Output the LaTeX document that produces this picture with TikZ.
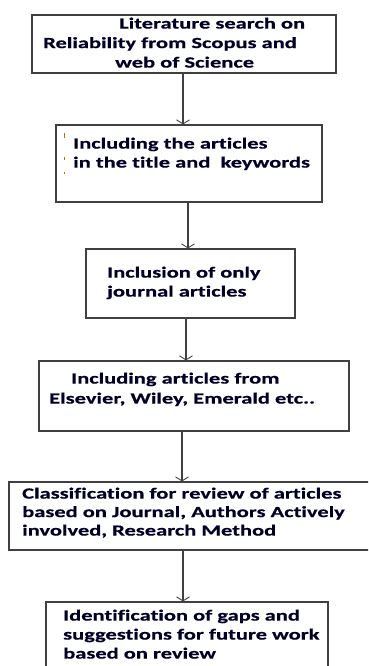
\documentclass[tikz,border=0pt]{standalone}
\usepackage{fontspec}
\setmainfont{Carlito}[FakeStretch=1.45, Ligatures={NoCommon}, BoldFeatures={FakeBold=0.6}]
\usetikzlibrary{arrows.meta}
\begin{document}
\begin{tikzpicture}[x=1pt,y=-1pt,
  stepbox/.style={draw=black!75, line width=1.2pt, rectangle, inner sep=0pt},
  steptext/.style={anchor=north west, inner sep=0pt, align=left, text=black!85!blue,
    font=\fontsize{15.5}{19}\selectfont\bfseries},
  flow/.style={draw=black!75, line width=1.1pt, -{Straight Barb[length=4pt,width=13pt,line width=0.9pt]}},
  tick/.style={draw=orange!80!black, line width=0.8pt}]
\useasboundingbox (0,0) rectangle (368,666);
\clip (0,0) rectangle (368,666);

% boxes
\node[stepbox, minimum width=304pt, minimum height=58pt] (b1) at (184,44) {};
\node[stepbox, minimum width=266pt, minimum height=77pt] (b2) at (189,163.5) {};
\node[stepbox, minimum width=209pt, minimum height=69pt] (b3) at (190.5,283.5) {};
\node[stepbox, minimum width=310pt, minimum height=70pt] (b4) at (194,396) {};
\node[stepbox, minimum width=366pt, minimum height=68pt] (b5) at (192,516) {};
\node[stepbox, minimum width=282pt, minimum height=76pt] (b6) at (187,640) {};

% box texts
\node[steptext, font=\fontsize{15.5}{19.5}\selectfont\bfseries] (t1) at (43,17.5)
  {\hspace*{76pt}Literature search on\\Reliability from Scopus and\\\hspace*{72pt}web of Science};
\node[steptext] (t2) at (73,137.5) {Including the articles\\in the title and\ \ keywords};
\node[steptext] (t3) at (107,266.5) {Inclusion of only\\journal articles};
\node[steptext, font=\fontsize{15.5}{20}\selectfont\bfseries] (t4) at (49,372.5)
  {\hspace*{22pt}Including articles from\\Elsevier, Wiley, Emerald etc..};
\node[steptext, font=\fontsize{15.5}{18.5}\selectfont\bfseries] (t5) at (22,487.5)
  {Classification for review of articles\\based on Journal, Authors Actively\\involved, Research Method};
\node[steptext] (t6) at (63,609.5)
  {Identification of gaps and\\suggestions for future work\\based on review};

% small marks at the left of the second box
\coordinate (m1) at (64,133); \coordinate (m1e) at (64,138);
\coordinate (m2) at (64,157); \coordinate (m2e) at (64,160);
\coordinate (m3) at (64,172); \coordinate (m3e) at (64,174);
\draw[tick] (m1) -- (m1e);
\draw[tick] (m2) -- (m2e);
\draw[tick] (m3) -- (m3e);

% connectors
\draw[flow] ([xshift=-1pt]b1.south) -- ([xshift=-1pt]b1.south |- b2.north);
\draw[flow] ([xshift=-1pt]b2.south) -- ([xshift=-1pt]b2.south |- b3.north);
\draw[flow] ([xshift=-4.5pt]b3.south) -- ([xshift=-4.5pt]b3.south |- b4.north);
\draw[flow] ([xshift=-12pt]b4.south) -- ([xshift=-12pt]b4.south |- b5.north);
\draw[flow] ([xshift=-9pt]b5.south) -- ([xshift=-9pt]b5.south |- b6.north);
\end{tikzpicture}
\end{document}
